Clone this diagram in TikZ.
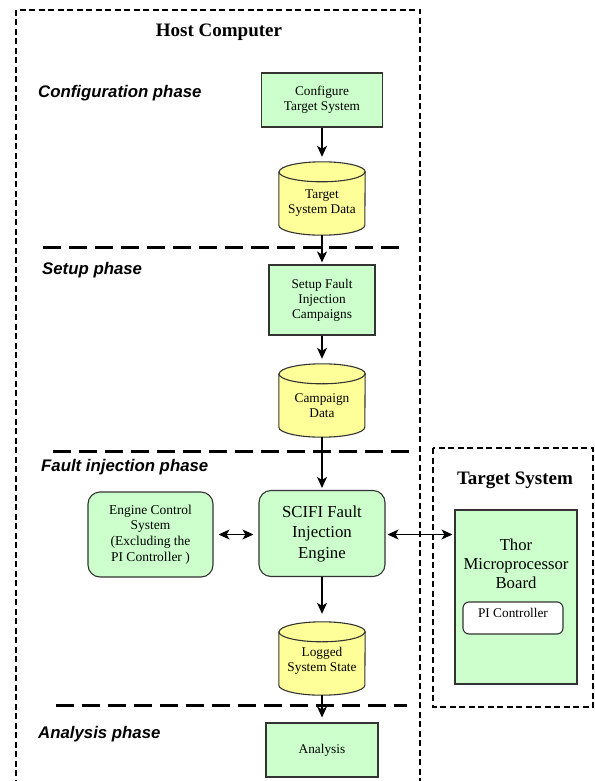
\documentclass[tikz,border=0pt]{standalone}
\usepackage{fontspec}
\setmainfont{Liberation Serif}
\newfontfamily\phasefont{Liberation Sans}
\usetikzlibrary{arrows.meta,backgrounds}
\definecolor{boxgreen}{HTML}{CCFFCC}
\definecolor{cylyellow}{HTML}{FFFF99}
\newcommand\drawcyl[1]{%
  \path[fill=cylyellow, draw=black!80, line width=1.1pt]
    ([yshift=-10pt]#1.north west) -- ([yshift=10pt]#1.south west)
    arc[start angle=180, end angle=360, x radius=43pt, y radius=10pt]
    -- ([yshift=-10pt]#1.north east)
    arc[start angle=0, end angle=180, x radius=43pt, y radius=10pt] -- cycle;
  \draw[draw=black!80, line width=1.1pt] ([yshift=-10pt]#1.north west)
    arc[start angle=180, end angle=360, x radius=43pt, y radius=10pt];
}
\begin{document}
\begin{tikzpicture}[x=1pt,y=1pt,
  greenbox/.style={draw=black!80, line width=1.1pt, fill=boxgreen, align=center,
    inner sep=0pt, font=\fontsize{13.3}{15}\selectfont},
  rgreenbox/.style={greenbox, rounded corners=12pt},
  cylbox/.style={inner sep=0pt, minimum width=86pt, minimum height=73pt},
  cyltext/.style={align=center, inner sep=0pt, font=\fontsize{13.3}{15.5}\selectfont},
  arr/.style={-{Stealth[length=11pt,width=10pt,inset=3pt]}, line width=1.1pt},
  darr/.style={{Stealth[length=11pt,width=10pt,inset=3pt]}-{Stealth[length=11pt,width=10pt,inset=3pt]}, line width=1.1pt},
  phase/.style={anchor=west, inner sep=0pt, font=\phasefont\bfseries\itshape\fontsize{16.8}{18}\selectfont},
  titletext/.style={inner sep=0pt, font=\bfseries\fontsize{19}{21}\selectfont},
  sepline/.style={dash pattern=on 18pt off 8pt, line width=3pt},
  frameline/.style={dash pattern=on 6pt off 3.5pt, line width=1.6pt}
]
\useasboundingbox (0,0) rectangle (594,-781);

% frames
\draw[frameline] (16,-795) -- (16,-10) -- (420,-10) -- (420,-795);
\draw[frameline] (433,-448) rectangle (593,-707);

% titles
\node[titletext] (hosttitle) at (219,-32) {Host Computer};
\node[titletext] (targettitle) at (515,-480) {Target System};

% phase labels
\node[phase] (ph1) at (38,-93) {Configuration phase};
\node[phase] (ph2) at (42,-270) {Setup phase};
\node[phase] (ph3) at (41,-467) {Fault injection phase};
\node[phase] (ph4) at (38,-734) {Analysis phase};

% separators
\draw[sepline] (43,-247) -- (405,-247);
\draw[sepline] (53,-451) -- (412,-451);
\draw[sepline] (56,-705) -- (407,-705);

% main column
\node[greenbox, minimum width=121pt, minimum height=54pt] (cfg) at (322,-100)
  {Configure\\Target System};
\node[cylbox] (tsd) at (322,-198.5) {};
\node[cyltext] (tsdtext) at (322,-203) {Target\\System Data};
\node[greenbox, minimum width=106pt, minimum height=70pt, font=\fontsize{13.3}{15}\selectfont] (setup) at (322,-300)
  {Setup Fault\\Injection\\Campaigns};
\node[cylbox] (camp) at (322,-400.5) {};
\node[cyltext] (camptext) at (322,-405.5) {Campaign\\Data};
\node[rgreenbox, minimum width=126pt, minimum height=86pt, font=\fontsize{16.8}{20.5}\selectfont] (scifi) at (322,-533.5)
  {SCIFI Fault\\Injection\\Engine};
\node[rgreenbox, minimum width=125pt, minimum height=85pt, font=\fontsize{13.5}{15.7}\selectfont] (engine) at (150.5,-534.5)
  {Engine Control\\System\\(Excluding the\\PI Controller )};
\node[cylbox] (logged) at (322,-658.5) {};
\node[cyltext] (loggedtext) at (322,-661) {Logged\\System State};
\node[greenbox, minimum width=112pt, minimum height=54pt] (analysis) at (322,-750) {Analysis};

% target system
\node[greenbox, minimum width=122pt, minimum height=174pt] (thor) at (516,-597) {};
\node[align=center, inner sep=0pt, font=\fontsize{16.7}{19}\selectfont] (thortext) at (516,-564)
  {Thor\\Microprocessor\\Board};
\node[draw=black!80, line width=1.1pt, fill=white, rounded corners=6pt, minimum width=100pt,
  minimum height=32pt, inner sep=0pt, text height=9pt, text depth=10pt,
  font=\fontsize{13.3}{15}\selectfont] (pi) at (513,-618) {PI Controller};

\begin{pgfonlayer}{background}
  \drawcyl{tsd}
  \drawcyl{camp}
  \drawcyl{logged}
\end{pgfonlayer}

% connectors
\draw[arr, shorten >=5pt] (cfg.south) -- (tsd.north);
\draw[arr, shorten >=2pt] (tsd.south) -- (setup.north);
\draw[arr, shorten >=5pt] (setup.south) -- (camp.north);
\draw[arr, shorten >=2pt] (camp.south) -- (scifi.north);
\draw[arr, shorten >=8pt] (scifi.south) -- (logged.north);
\draw[arr, shorten >=5pt] (logged.south) -- (analysis.north);
\draw[darr, shorten <=5pt, shorten >=5pt] (engine.east) -- (scifi.west |- engine.east);
\draw[darr, shorten <=2pt, shorten >=2pt] (scifi.east |- engine.east) -- (thor.west |- engine.east);
\end{tikzpicture}
\end{document}
